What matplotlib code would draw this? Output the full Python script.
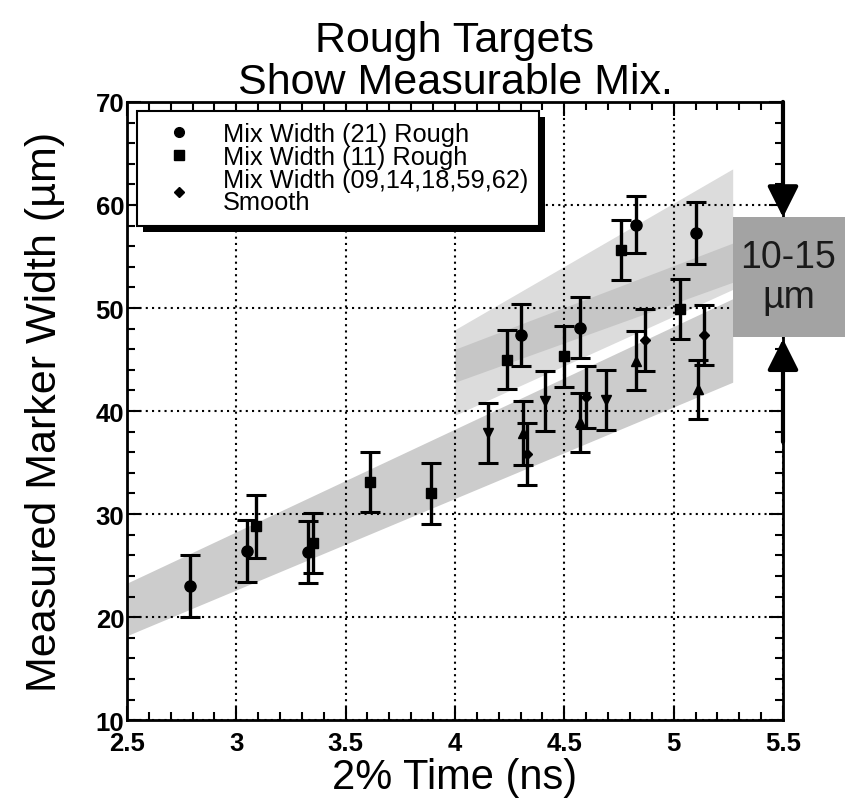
import numpy as np
import matplotlib.pyplot as plt
from matplotlib.patches import Rectangle
from matplotlib.lines import Line2D
from matplotlib.ticker import MultipleLocator
import matplotlib.transforms as mtransforms

plt.rcParams['font.family'] = ['Liberation Sans', 'DejaVu Sans']

# Mix Width (21) Rough - circles
c_t = [2.79, 3.05, 3.33, 4.30, 4.57, 4.83, 5.10]
c_v = [23.0, 26.4, 26.3, 47.4, 48.1, 58.1, 57.3]
c_err = [3.0, 3.0, 3.0, 3.0, 3.0, 2.8, 3.0]

# Mix Width (11) Rough - squares
s_t = [3.09, 3.35, 3.61, 3.89, 4.24, 4.50, 4.76, 5.03]
s_v = [28.8, 27.2, 33.1, 32.0, 45.0, 45.3, 55.6, 49.9]
s_err = [3.1, 2.9, 2.9, 3.0, 2.9, 3.0, 2.9, 2.9]

# Smooth shots (09,14,18,59,62)
dn_t = [4.15, 4.41, 4.69]
dn_v = [37.9, 41.0, 41.1]
dn_err = [2.9, 2.9, 2.9]
up_t = [4.31, 4.57, 4.83, 5.11]
up_v = [37.9, 38.9, 44.9, 42.1]
up_err = [3.1, 2.9, 2.9, 2.9]
dm_t = [4.33, 4.60, 4.87, 5.14]
dm_v = [35.8, 41.4, 46.9, 47.4]
dm_err = [3.0, 3.0, 3.0, 2.9]

# shaded bands: (t_start, t_end), lower edge, upper edge
smooth_band_t = [2.5, 5.27]
smooth_band_lo = [18.2, 42.8]
smooth_band_hi = [23.3, 50.9]
rough_band_t = [4.0, 5.27]
rough21_lo = [42.8, 52.5]
rough21_hi = [47.9, 63.5]
rough11_lo = [39.6, 51.8]
rough11_hi = [46.0, 56.3]

fig = plt.figure(figsize=(8.52, 8.04), dpi=100)
ax = fig.add_axes([0.149, 0.103, 0.770, 0.769])

ax.fill_between(smooth_band_t, smooth_band_lo, smooth_band_hi, color='0.80', lw=0, zorder=1)
ax.fill_between(rough_band_t, rough21_lo, rough21_hi, color='0.64', alpha=0.38, lw=0, zorder=1)
ax.fill_between(rough_band_t, rough11_lo, rough11_hi, color='0.64', alpha=0.38, lw=0, zorder=1)

ebkw = dict(color='k', ecolor='k', elinewidth=2.4, capsize=7, capthick=2.2, ls='none', zorder=3)
ax.errorbar(c_t, c_v, yerr=c_err, marker='o', ms=8, **ebkw)
ax.errorbar(s_t, s_v, yerr=s_err, marker='s', ms=7.5, **ebkw)
ax.errorbar(dn_t, dn_v, yerr=dn_err, marker='v', ms=7, **ebkw)
ax.errorbar(up_t, up_v, yerr=up_err, marker='^', ms=7, **ebkw)
ax.errorbar(dm_t, dm_v, yerr=dm_err, marker='D', ms=5.5, **ebkw)

ax.set_xlim(2.5, 5.5)
ax.set_ylim(10, 70)
ax.xaxis.set_major_locator(MultipleLocator(0.5))
ax.xaxis.set_minor_locator(MultipleLocator(0.1))
ax.yaxis.set_major_locator(MultipleLocator(10))
ax.yaxis.set_minor_locator(MultipleLocator(2))
ax.set_xticks([2.5, 3, 3.5, 4, 4.5, 5, 5.5])
ax.set_xticklabels(['2.5', '3', '3.5', '4', '4.5', '5', '5.5'])
ax.tick_params(which='both', direction='in', top=True, right=True, width=1.5,
               labelsize=18.5)
ax.tick_params(which='major', length=10)
ax.tick_params(axis='y', which='major', pad=2)
ax.tick_params(axis='x', which='major', pad=8)
ax.tick_params(which='minor', length=6)
for lab in ax.get_xticklabels() + ax.get_yticklabels():
    lab.set_fontweight('bold')
for sp in ax.spines.values():
    sp.set_linewidth(2)

ax.set_axisbelow('line')
ax.grid(True, which='major', color='k', ls=(0, (1, 2)), lw=1.5)

ax.set_xlabel('2% Time (ns)', fontsize=30, labelpad=1)
ax.set_ylabel('Measured Marker Width (µm)', fontsize=31, labelpad=22)
ax.set_title('Rough Targets\nShow Measurable Mix.', fontsize=31, linespacing=1.05, pad=4)

# legend
handles = [
    Line2D([], [], ls='none', marker='o', color='k', ms=7),
    Line2D([], [], ls='none', marker='s', color='k', ms=7),
    Line2D([], [], ls='none', marker='D', color='k', ms=5),
]
labels = ['Mix Width (21) Rough', 'Mix Width (11) Rough',
          'Mix Width (09,14,18,59,62)\nSmooth']
leg = ax.legend(handles, labels, loc='upper left', bbox_to_anchor=(0.016, 0.986),
                fontsize=18.3, frameon=True, fancybox=False, framealpha=1,
                edgecolor='k', labelspacing=-0.04, handletextpad=0.5,
                borderpad=0.45, handlelength=2.4, borderaxespad=0)
leg.get_frame().set_linewidth(1.5)
leg.set_zorder(6)
for t in leg.get_texts():
    t.set_linespacing(0.92)

# 10-15 µm box with arrows on right spine
ax.add_patch(Rectangle((5.27, 47.2), 0.515, 11.6, facecolor='0.64', edgecolor='none',
                       clip_on=False, zorder=4))
ax.text(5.525, 53.0, '10-15\nµm', fontsize=27, ha='center', va='center',
        linespacing=1.15, color='0.1', zorder=5, clip_on=False)
akw = dict(arrowstyle='-|>,head_length=1.9,head_width=0.95', mutation_scale=10,
           lw=3, color='k', shrinkA=0, shrinkB=0)
ax.annotate('', xy=(5.5, 58.8), xytext=(5.5, 70), arrowprops=akw,
            annotation_clip=False, zorder=5)
ax.annotate('', xy=(5.5, 47.0), xytext=(5.5, 37.0), arrowprops=akw,
            annotation_clip=False, zorder=5)

# legend drop shadow
fig.canvas.draw()
bb = leg.get_window_extent()
ax.add_artist(Rectangle((bb.x0 + 6, bb.y0 - 6), bb.width, bb.height,
                        transform=mtransforms.IdentityTransform(),
                        facecolor='k', edgecolor='none', zorder=5.5, clip_on=False))

fig.savefig('out.png', dpi=100)
